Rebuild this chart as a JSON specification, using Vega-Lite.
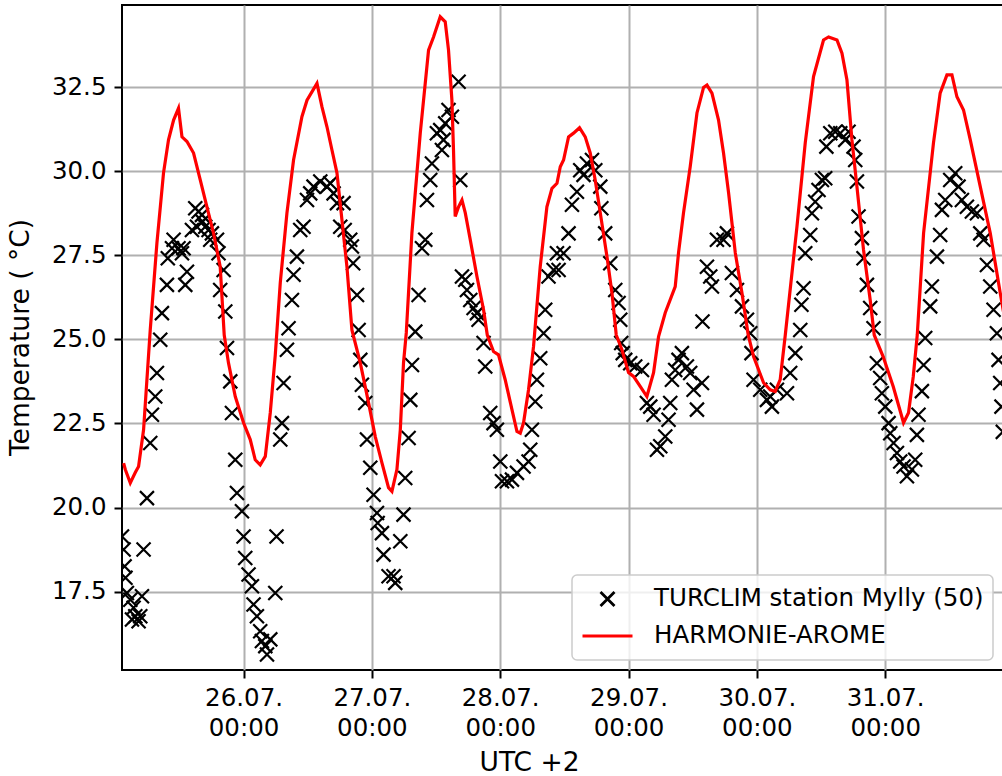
{
  "$schema": "https://vega.github.io/schema/vega-lite/v6.json",
  "width": 885,
  "height": 665,
  "autosize": {"type": "none"},
  "padding": {"left": 122, "top": 5, "right": -5, "bottom": 106},
  "background": "white",
  "config": {
    "view": {"stroke": "black", "strokeWidth": 2},
    "font": "DejaVu Sans",
    "axis": {
      "labelFont": "DejaVu Sans", "labelFontSize": 24.5, "labelColor": "black",
      "titleFont": "DejaVu Sans", "titleFontSize": 26.5, "titleFontWeight": "normal", "titleColor": "black",
      "tickColor": "black", "tickSize": 8, "tickWidth": 2, "labelPadding": 8,
      "domain": false, "grid": true, "gridColor": "#b0b0b0", "gridWidth": 2
    },
    "legend": {
      "orient": "none", "legendX": 450, "legendY": 570, "padding": 9,
      "fillColor": "rgba(255,255,255,0.8)", "strokeColor": "#cccccc", "strokeWidth": 1.5, "cornerRadius": 5,
      "labelFont": "DejaVu Sans", "labelFontSize": 24.5, "labelColor": "black", "labelLimit": 800,
      "labelOffset": 20, "symbolSize": 2500, "symbolStrokeWidth": 2.8, "clipHeight": 30, "rowPadding": 7
    }
  },
  "datasets": {
    "obs": [
      {"t":"2018-07-25T01:16Z","v":19.14},{"t":"2018-07-25T01:34Z","v":18.75},{"t":"2018-07-25T01:45Z","v":18.25},{"t":"2018-07-25T01:55Z","v":17.91},{"t":"2018-07-25T02:11Z","v":17.46},{"t":"2018-07-25T02:49Z","v":17.26},{"t":"2018-07-25T03:08Z","v":16.67},{"t":"2018-07-25T03:26Z","v":17.02},{"t":"2018-07-25T03:45Z","v":16.77},{"t":"2018-07-25T04:22Z","v":16.62},{"t":"2018-07-25T04:41Z","v":16.77},{"t":"2018-07-25T05:00Z","v":17.36},{"t":"2018-07-25T05:18Z","v":18.75},{"t":"2018-07-25T05:56Z","v":20.28},{"t":"2018-07-25T06:33Z","v":21.92},{"t":"2018-07-25T06:52Z","v":22.76},{"t":"2018-07-25T07:29Z","v":23.30},{"t":"2018-07-25T07:48Z","v":24.00},{"t":"2018-07-25T08:25Z","v":24.99},{"t":"2018-07-25T08:44Z","v":25.78},{"t":"2018-07-25T09:40Z","v":26.62},{"t":"2018-07-25T09:50Z","v":27.41},{"t":"2018-07-25T10:37Z","v":27.71},{"t":"2018-07-25T10:55Z","v":27.96},{"t":"2018-07-25T11:50Z","v":27.71},{"t":"2018-07-25T12:29Z","v":27.56},{"t":"2018-07-25T12:47Z","v":27.71},{"t":"2018-07-25T13:06Z","v":26.62},{"t":"2018-07-25T13:25Z","v":27.01},{"t":"2018-07-25T14:21Z","v":28.25},{"t":"2018-07-25T14:58Z","v":28.90},{"t":"2018-07-25T15:17Z","v":28.35},{"t":"2018-07-25T15:35Z","v":28.80},{"t":"2018-07-25T16:13Z","v":28.70},{"t":"2018-07-25T16:20Z","v":28.50},{"t":"2018-07-25T16:50Z","v":28.35},{"t":"2018-07-25T17:27Z","v":28.25},{"t":"2018-07-25T17:46Z","v":27.96},{"t":"2018-07-25T18:05Z","v":28.15},{"t":"2018-07-25T19:02Z","v":27.96},{"t":"2018-07-25T19:19Z","v":27.56},{"t":"2018-07-25T19:38Z","v":26.47},{"t":"2018-07-25T20:16Z","v":27.06},{"t":"2018-07-25T20:35Z","v":25.83},{"t":"2018-07-25T20:54Z","v":24.74},{"t":"2018-07-25T21:31Z","v":23.75},{"t":"2018-07-25T21:50Z","v":22.81},{"t":"2018-07-25T22:27Z","v":21.42},{"t":"2018-07-25T22:46Z","v":20.43},{"t":"2018-07-25T23:42Z","v":19.89},
      {"t":"2018-07-26T00:00Z","v":19.14},{"t":"2018-07-26T00:19Z","v":18.50},{"t":"2018-07-26T00:56Z","v":18.01},{"t":"2018-07-26T01:34Z","v":17.66},{"t":"2018-07-26T01:52Z","v":17.12},{"t":"2018-07-26T02:30Z","v":16.77},{"t":"2018-07-26T03:07Z","v":16.32},{"t":"2018-07-26T03:26Z","v":16.03},{"t":"2018-07-26T04:04Z","v":15.88},{"t":"2018-07-26T04:23Z","v":15.63},{"t":"2018-07-26T05:00Z","v":16.08},{"t":"2018-07-26T05:56Z","v":17.46},{"t":"2018-07-26T06:10Z","v":19.14},{"t":"2018-07-26T06:52Z","v":22.02},{"t":"2018-07-26T07:11Z","v":22.51},{"t":"2018-07-26T07:29Z","v":23.70},{"t":"2018-07-26T08:07Z","v":24.69},{"t":"2018-07-26T08:25Z","v":25.33},{"t":"2018-07-26T09:03Z","v":26.17},{"t":"2018-07-26T09:21Z","v":26.92},{"t":"2018-07-26T09:59Z","v":27.46},{"t":"2018-07-26T10:36Z","v":28.25},{"t":"2018-07-26T11:13Z","v":28.35},{"t":"2018-07-26T11:52Z","v":29.14},{"t":"2018-07-26T12:28Z","v":29.34},{"t":"2018-07-26T13:05Z","v":29.54},{"t":"2018-07-26T14:21Z","v":29.69},{"t":"2018-07-26T15:36Z","v":29.54},{"t":"2018-07-26T16:13Z","v":29.64},{"t":"2018-07-26T16:50Z","v":29.34},{"t":"2018-07-26T17:28Z","v":29.05},{"t":"2018-07-26T18:05Z","v":28.35},{"t":"2018-07-26T18:42Z","v":29.05},{"t":"2018-07-26T18:55Z","v":28.25},{"t":"2018-07-26T19:57Z","v":27.96},{"t":"2018-07-26T20:16Z","v":27.76},{"t":"2018-07-26T20:30Z","v":27.26},{"t":"2018-07-26T21:13Z","v":26.32},{"t":"2018-07-26T21:31Z","v":25.28},{"t":"2018-07-26T21:50Z","v":24.39},{"t":"2018-07-26T22:08Z","v":23.65},{"t":"2018-07-26T22:46Z","v":23.11},{"t":"2018-07-26T23:05Z","v":22.02},{"t":"2018-07-26T23:42Z","v":21.18},
      {"t":"2018-07-27T00:19Z","v":20.38},{"t":"2018-07-27T00:57Z","v":19.84},{"t":"2018-07-27T01:05Z","v":19.54},{"t":"2018-07-27T01:53Z","v":19.24},{"t":"2018-07-27T02:11Z","v":18.60},{"t":"2018-07-27T03:07Z","v":17.96},{"t":"2018-07-27T04:03Z","v":17.96},{"t":"2018-07-27T04:22Z","v":17.76},{"t":"2018-07-27T05:19Z","v":19.00},{"t":"2018-07-27T05:55Z","v":19.79},{"t":"2018-07-27T06:14Z","v":20.88},{"t":"2018-07-27T06:52Z","v":22.07},{"t":"2018-07-27T07:11Z","v":23.20},{"t":"2018-07-27T07:30Z","v":24.24},{"t":"2018-07-27T08:07Z","v":25.23},{"t":"2018-07-27T08:44Z","v":26.32},{"t":"2018-07-27T09:22Z","v":27.71},{"t":"2018-07-27T09:59Z","v":27.96},{"t":"2018-07-27T10:18Z","v":29.14},{"t":"2018-07-27T10:55Z","v":29.74},{"t":"2018-07-27T11:14Z","v":30.23},{"t":"2018-07-27T12:10Z","v":31.13},{"t":"2018-07-27T12:47Z","v":31.22},{"t":"2018-07-27T13:06Z","v":30.63},{"t":"2018-07-27T13:24Z","v":30.93},{"t":"2018-07-27T13:43Z","v":31.42},{"t":"2018-07-27T14:20Z","v":31.82},{"t":"2018-07-27T14:58Z","v":31.62},{"t":"2018-07-27T16:13Z","v":32.66},{"t":"2018-07-27T16:32Z","v":29.74},{"t":"2018-07-27T16:51Z","v":26.87},{"t":"2018-07-27T17:28Z","v":26.77},{"t":"2018-07-27T17:47Z","v":26.47},{"t":"2018-07-27T18:24Z","v":26.17},{"t":"2018-07-27T19:01Z","v":25.93},{"t":"2018-07-27T19:39Z","v":25.78},{"t":"2018-07-27T19:57Z","v":25.58},{"t":"2018-07-27T20:53Z","v":24.89},{"t":"2018-07-27T21:12Z","v":24.19},{"t":"2018-07-27T22:08Z","v":22.81},{"t":"2018-07-27T22:45Z","v":22.51},{"t":"2018-07-27T23:23Z","v":22.31},
      {"t":"2018-07-28T00:01Z","v":21.37},{"t":"2018-07-28T00:20Z","v":20.78},{"t":"2018-07-28T01:16Z","v":20.78},{"t":"2018-07-28T02:12Z","v":20.83},{"t":"2018-07-28T03:08Z","v":21.03},{"t":"2018-07-28T04:22Z","v":21.22},{"t":"2018-07-28T05:18Z","v":21.37},{"t":"2018-07-28T05:37Z","v":21.72},{"t":"2018-07-28T05:56Z","v":22.31},{"t":"2018-07-28T06:33Z","v":23.15},{"t":"2018-07-28T06:52Z","v":23.80},{"t":"2018-07-28T07:29Z","v":24.44},{"t":"2018-07-28T08:07Z","v":25.18},{"t":"2018-07-28T08:25Z","v":25.88},{"t":"2018-07-28T09:02Z","v":26.87},{"t":"2018-07-28T09:59Z","v":27.06},{"t":"2018-07-28T10:37Z","v":27.56},{"t":"2018-07-28T10:55Z","v":27.06},{"t":"2018-07-28T11:51Z","v":27.56},{"t":"2018-07-28T12:47Z","v":28.15},{"t":"2018-07-28T13:25Z","v":29.00},{"t":"2018-07-28T14:21Z","v":29.39},{"t":"2018-07-28T14:58Z","v":30.03},{"t":"2018-07-28T15:35Z","v":29.89},{"t":"2018-07-28T16:13Z","v":30.23},{"t":"2018-07-28T17:10Z","v":30.33},{"t":"2018-07-28T17:47Z","v":30.03},{"t":"2018-07-28T18:43Z","v":29.54},{"t":"2018-07-28T18:55Z","v":28.90},{"t":"2018-07-28T19:38Z","v":28.15},{"t":"2018-07-28T20:35Z","v":27.26},{"t":"2018-07-28T21:31Z","v":26.47},{"t":"2018-07-28T22:08Z","v":26.08},{"t":"2018-07-28T22:27Z","v":25.58},{"t":"2018-07-28T22:38Z","v":24.89},{"t":"2018-07-28T22:55Z","v":24.59},{"t":"2018-07-28T23:23Z","v":24.39},
      {"t":"2018-07-29T00:19Z","v":24.29},{"t":"2018-07-29T01:15Z","v":24.19},{"t":"2018-07-29T02:31Z","v":24.09},{"t":"2018-07-29T03:26Z","v":23.11},{"t":"2018-07-29T04:04Z","v":23.00},{"t":"2018-07-29T04:41Z","v":22.76},{"t":"2018-07-29T05:19Z","v":21.72},{"t":"2018-07-29T05:56Z","v":21.82},{"t":"2018-07-29T06:52Z","v":22.11},{"t":"2018-07-29T07:29Z","v":22.61},{"t":"2018-07-29T07:48Z","v":23.11},{"t":"2018-07-29T08:07Z","v":23.80},{"t":"2018-07-29T08:44Z","v":24.09},{"t":"2018-07-29T09:21Z","v":24.39},{"t":"2018-07-29T09:59Z","v":24.59},{"t":"2018-07-29T10:55Z","v":24.19},{"t":"2018-07-29T11:32Z","v":24.00},{"t":"2018-07-29T12:10Z","v":23.50},{"t":"2018-07-29T12:48Z","v":22.91},{"t":"2018-07-29T13:44Z","v":23.70},{"t":"2018-07-29T13:50Z","v":25.53},{"t":"2018-07-29T14:40Z","v":27.16},{"t":"2018-07-29T15:17Z","v":26.87},{"t":"2018-07-29T15:36Z","v":26.57},{"t":"2018-07-29T16:32Z","v":27.96},{"t":"2018-07-29T17:46Z","v":27.96},{"t":"2018-07-29T18:24Z","v":28.15},{"t":"2018-07-29T19:20Z","v":26.97},{"t":"2018-07-29T20:17Z","v":26.47},{"t":"2018-07-29T21:13Z","v":25.98},{"t":"2018-07-29T22:09Z","v":25.58},{"t":"2018-07-29T22:46Z","v":25.18},{"t":"2018-07-29T23:00Z","v":24.59},{"t":"2018-07-29T23:23Z","v":23.80},
      {"t":"2018-07-30T00:38Z","v":23.50},{"t":"2018-07-30T01:53Z","v":23.20},{"t":"2018-07-30T02:30Z","v":23.30},{"t":"2018-07-30T02:49Z","v":23.00},{"t":"2018-07-30T03:45Z","v":23.50},{"t":"2018-07-30T05:38Z","v":23.40},{"t":"2018-07-30T06:14Z","v":24.00},{"t":"2018-07-30T07:11Z","v":24.59},{"t":"2018-07-30T08:07Z","v":25.28},{"t":"2018-07-30T08:20Z","v":26.03},{"t":"2018-07-30T08:44Z","v":26.52},{"t":"2018-07-30T09:03Z","v":27.56},{"t":"2018-07-30T09:59Z","v":28.10},{"t":"2018-07-30T10:18Z","v":28.75},{"t":"2018-07-30T10:55Z","v":29.09},{"t":"2018-07-30T11:32Z","v":29.44},{"t":"2018-07-30T12:10Z","v":29.74},{"t":"2018-07-30T12:47Z","v":29.79},{"t":"2018-07-30T13:00Z","v":30.73},{"t":"2018-07-30T13:44Z","v":31.13},{"t":"2018-07-30T14:40Z","v":31.17},{"t":"2018-07-30T15:36Z","v":31.13},{"t":"2018-07-30T16:32Z","v":30.93},{"t":"2018-07-30T17:09Z","v":31.17},{"t":"2018-07-30T18:05Z","v":30.73},{"t":"2018-07-30T18:24Z","v":30.33},{"t":"2018-07-30T18:43Z","v":29.69},{"t":"2018-07-30T19:01Z","v":28.65},{"t":"2018-07-30T19:39Z","v":28.01},{"t":"2018-07-30T19:57Z","v":27.41},{"t":"2018-07-30T20:35Z","v":26.62},{"t":"2018-07-30T21:12Z","v":25.93},{"t":"2018-07-30T21:49Z","v":25.33},{"t":"2018-07-30T22:27Z","v":24.29},{"t":"2018-07-30T23:04Z","v":23.85},{"t":"2018-07-30T23:23Z","v":23.40},
      {"t":"2018-07-31T00:01Z","v":23.00},{"t":"2018-07-31T00:38Z","v":22.51},{"t":"2018-07-31T00:57Z","v":22.21},{"t":"2018-07-31T01:34Z","v":21.92},{"t":"2018-07-31T02:12Z","v":21.62},{"t":"2018-07-31T02:49Z","v":21.37},{"t":"2018-07-31T03:26Z","v":21.22},{"t":"2018-07-31T04:04Z","v":20.93},{"t":"2018-07-31T05:00Z","v":21.13},{"t":"2018-07-31T05:37Z","v":21.42},{"t":"2018-07-31T05:56Z","v":22.16},{"t":"2018-07-31T06:14Z","v":22.76},{"t":"2018-07-31T06:52Z","v":23.46},{"t":"2018-07-31T07:11Z","v":24.24},{"t":"2018-07-31T07:29Z","v":25.04},{"t":"2018-07-31T08:25Z","v":25.98},{"t":"2018-07-31T08:44Z","v":26.57},{"t":"2018-07-31T09:41Z","v":27.46},{"t":"2018-07-31T10:17Z","v":28.10},{"t":"2018-07-31T10:37Z","v":28.85},{"t":"2018-07-31T11:14Z","v":29.14},{"t":"2018-07-31T12:10Z","v":29.74},{"t":"2018-07-31T13:06Z","v":29.94},{"t":"2018-07-31T13:43Z","v":29.54},{"t":"2018-07-31T14:21Z","v":29.14},{"t":"2018-07-31T15:17Z","v":28.94},{"t":"2018-07-31T16:13Z","v":28.80},{"t":"2018-07-31T17:10Z","v":28.75},{"t":"2018-07-31T17:47Z","v":28.15},{"t":"2018-07-31T18:24Z","v":27.96},{"t":"2018-07-31T19:02Z","v":27.21},{"t":"2018-07-31T19:39Z","v":26.57},{"t":"2018-07-31T20:16Z","v":25.88},{"t":"2018-07-31T20:54Z","v":25.18},{"t":"2018-07-31T21:12Z","v":24.39},{"t":"2018-07-31T21:31Z","v":23.70},{"t":"2018-07-31T21:45Z","v":23.00},{"t":"2018-07-31T22:00Z","v":22.25}
    ],
    "model": [
      {"t":"2018-07-25T01:34Z","v":21.32},{"t":"2018-07-25T01:53Z","v":21.13},{"t":"2018-07-25T02:49Z","v":20.73},{"t":"2018-07-25T03:45Z","v":21.04},{"t":"2018-07-25T04:22Z","v":21.22},{"t":"2018-07-25T05:18Z","v":22.31},{"t":"2018-07-25T06:33Z","v":25.28},{"t":"2018-07-25T07:48Z","v":27.87},{"t":"2018-07-25T09:02Z","v":29.95},{"t":"2018-07-25T09:58Z","v":30.93},{"t":"2018-07-25T10:55Z","v":31.52},{"t":"2018-07-25T11:50Z","v":31.87},{"t":"2018-07-25T12:29Z","v":31.02},{"t":"2018-07-25T13:25Z","v":30.88},{"t":"2018-07-25T14:39Z","v":30.54},{"t":"2018-07-25T15:54Z","v":29.74},{"t":"2018-07-25T17:09Z","v":28.94},{"t":"2018-07-25T18:23Z","v":28.16},{"t":"2018-07-25T19:38Z","v":27.16},{"t":"2018-07-25T20:23Z","v":25.13},{"t":"2018-07-25T21:11Z","v":24.30},{"t":"2018-07-25T22:27Z","v":23.30},
      {"t":"2018-07-26T00:00Z","v":22.52},{"t":"2018-07-26T01:15Z","v":22.02},{"t":"2018-07-26T02:11Z","v":21.42},{"t":"2018-07-26T03:07Z","v":21.27},{"t":"2018-07-26T04:04Z","v":21.52},{"t":"2018-07-26T05:00Z","v":22.82},{"t":"2018-07-26T05:56Z","v":24.54},{"t":"2018-07-26T06:52Z","v":26.68},{"t":"2018-07-26T08:07Z","v":28.76},{"t":"2018-07-26T09:21Z","v":30.33},{"t":"2018-07-26T10:55Z","v":31.62},{"t":"2018-07-26T11:52Z","v":32.11},{"t":"2018-07-26T13:44Z","v":32.61},{"t":"2018-07-26T14:40Z","v":31.91},{"t":"2018-07-26T15:36Z","v":31.32},{"t":"2018-07-26T16:32Z","v":30.63},{"t":"2018-07-26T17:28Z","v":29.95},{"t":"2018-07-26T18:24Z","v":28.55},{"t":"2018-07-26T19:20Z","v":27.16},{"t":"2018-07-26T20:16Z","v":25.28},{"t":"2018-07-26T21:50Z","v":24.30},{"t":"2018-07-26T23:23Z","v":23.11},
      {"t":"2018-07-27T00:38Z","v":22.11},{"t":"2018-07-27T01:53Z","v":21.33},{"t":"2018-07-27T03:07Z","v":20.59},{"t":"2018-07-27T03:45Z","v":20.48},{"t":"2018-07-27T04:41Z","v":21.13},{"t":"2018-07-27T05:19Z","v":22.31},{"t":"2018-07-27T05:55Z","v":24.30},{"t":"2018-07-27T06:26Z","v":25.19},{"t":"2018-07-27T07:29Z","v":28.16},{"t":"2018-07-27T09:03Z","v":31.13},{"t":"2018-07-27T10:36Z","v":33.60},{"t":"2018-07-27T11:32Z","v":33.99},{"t":"2018-07-27T12:47Z","v":34.59},{"t":"2018-07-27T13:43Z","v":34.44},{"t":"2018-07-27T14:20Z","v":33.60},{"t":"2018-07-27T14:58Z","v":32.11},{"t":"2018-07-27T15:16Z","v":30.63},{"t":"2018-07-27T15:35Z","v":28.65},{"t":"2018-07-27T16:13Z","v":28.94},{"t":"2018-07-27T16:51Z","v":29.14},{"t":"2018-07-27T17:28Z","v":28.76},{"t":"2018-07-27T18:24Z","v":27.96},{"t":"2018-07-27T19:39Z","v":26.87},{"t":"2018-07-27T20:53Z","v":25.88},{"t":"2018-07-27T21:35Z","v":25.13},{"t":"2018-07-27T22:45Z","v":24.64},{"t":"2018-07-27T23:41Z","v":24.54},
      {"t":"2018-07-28T00:56Z","v":23.80},{"t":"2018-07-28T02:12Z","v":22.91},{"t":"2018-07-28T03:08Z","v":22.26},{"t":"2018-07-28T03:45Z","v":22.21},{"t":"2018-07-28T04:22Z","v":22.52},{"t":"2018-07-28T05:18Z","v":23.50},{"t":"2018-07-28T06:14Z","v":24.79},{"t":"2018-07-28T07:29Z","v":27.16},{"t":"2018-07-28T08:44Z","v":28.94},{"t":"2018-07-28T09:41Z","v":29.49},{"t":"2018-07-28T10:37Z","v":29.64},{"t":"2018-07-28T11:14Z","v":30.13},{"t":"2018-07-28T11:51Z","v":30.33},{"t":"2018-07-28T12:47Z","v":31.02},{"t":"2018-07-28T13:43Z","v":31.13},{"t":"2018-07-28T14:50Z","v":31.29},{"t":"2018-07-28T15:54Z","v":31.02},{"t":"2018-07-28T16:50Z","v":30.54},{"t":"2018-07-28T17:46Z","v":29.74},{"t":"2018-07-28T18:43Z","v":28.76},{"t":"2018-07-28T19:58Z","v":27.46},{"t":"2018-07-28T20:54Z","v":26.38},{"t":"2018-07-28T21:42Z","v":25.13},{"t":"2018-07-28T22:46Z","v":24.69},
      {"t":"2018-07-29T00:00Z","v":24.01},{"t":"2018-07-29T00:56Z","v":23.90},{"t":"2018-07-29T02:11Z","v":23.60},{"t":"2018-07-29T03:26Z","v":23.30},{"t":"2018-07-29T04:41Z","v":24.01},{"t":"2018-07-29T05:37Z","v":25.08},{"t":"2018-07-29T06:52Z","v":25.79},{"t":"2018-07-29T08:44Z","v":26.57},{"t":"2018-07-29T09:21Z","v":27.57},{"t":"2018-07-29T10:17Z","v":28.76},{"t":"2018-07-29T11:32Z","v":30.13},{"t":"2018-07-29T12:48Z","v":31.73},{"t":"2018-07-29T14:02Z","v":32.49},{"t":"2018-07-29T14:40Z","v":32.56},{"t":"2018-07-29T15:36Z","v":32.32},{"t":"2018-07-29T16:50Z","v":31.52},{"t":"2018-07-29T17:46Z","v":30.54},{"t":"2018-07-29T18:43Z","v":29.35},{"t":"2018-07-29T19:58Z","v":27.57},{"t":"2018-07-29T21:13Z","v":26.38},{"t":"2018-07-29T22:23Z","v":25.13},{"t":"2018-07-29T23:23Z","v":24.49},
      {"t":"2018-07-30T01:15Z","v":23.71},{"t":"2018-07-30T02:30Z","v":23.50},{"t":"2018-07-30T03:26Z","v":23.45},{"t":"2018-07-30T04:22Z","v":23.80},{"t":"2018-07-30T05:19Z","v":25.13},{"t":"2018-07-30T07:30Z","v":28.35},{"t":"2018-07-30T09:03Z","v":30.84},{"t":"2018-07-30T10:36Z","v":32.81},{"t":"2018-07-30T12:28Z","v":33.90},{"t":"2018-07-30T13:25Z","v":33.99},{"t":"2018-07-30T14:59Z","v":33.90},{"t":"2018-07-30T15:55Z","v":33.51},{"t":"2018-07-30T16:51Z","v":32.71},{"t":"2018-07-30T17:47Z","v":30.93},{"t":"2018-07-30T18:43Z","v":29.54},{"t":"2018-07-30T19:57Z","v":27.66},{"t":"2018-07-30T21:12Z","v":26.17},{"t":"2018-07-30T21:57Z","v":25.13},{"t":"2018-07-30T23:38Z","v":24.48},
      {"t":"2018-07-31T01:31Z","v":23.59},{"t":"2018-07-31T03:26Z","v":22.52},{"t":"2018-07-31T04:22Z","v":22.82},{"t":"2018-07-31T05:15Z","v":23.89},{"t":"2018-07-31T06:00Z","v":25.13},{"t":"2018-07-31T07:11Z","v":28.16},{"t":"2018-07-31T09:02Z","v":30.84},{"t":"2018-07-31T10:17Z","v":32.32},{"t":"2018-07-31T11:33Z","v":32.86},{"t":"2018-07-31T12:29Z","v":32.86},{"t":"2018-07-31T13:25Z","v":32.21},{"t":"2018-07-31T14:39Z","v":31.82},{"t":"2018-07-31T15:55Z","v":30.93},{"t":"2018-07-31T17:47Z","v":29.54},{"t":"2018-07-31T19:39Z","v":28.16},{"t":"2018-07-31T21:31Z","v":26.38},{"t":"2018-07-31T23:01Z","v":25.00}
    ]
  },
  "layer": [
    {
      "data": {"name": "obs"},
      "mark": {"type": "point", "filled": false, "size": 2500, "strokeWidth": 2.2, "opacity": 1, "clip": true},
      "encoding": {
        "x": {
          "field": "t", "type": "temporal",
          "scale": {"type": "utc", "domain": [
            {"year": 2018, "month": "jul", "date": 25, "hours": 1, "minutes": 16, "utc": true},
            {"year": 2018, "month": "jul", "date": 31, "hours": 22, "minutes": 47, "utc": true}
          ]},
          "axis": {
            "values": [
              {"year": 2018, "month": "jul", "date": 26, "utc": true},
              {"year": 2018, "month": "jul", "date": 27, "utc": true},
              {"year": 2018, "month": "jul", "date": 28, "utc": true},
              {"year": 2018, "month": "jul", "date": 29, "utc": true},
              {"year": 2018, "month": "jul", "date": 30, "utc": true},
              {"year": 2018, "month": "jul", "date": 31, "utc": true}
            ],
            "labelExpr": "[utcFormat(datum.value, '%d.%m.'), utcFormat(datum.value, '%H:%M')]",
            "labelLineHeight": 30.5,
            "labelPadding": 8,
            "title": "UTC +2",
            "titleX": 407, "titleY": 100, "titleBaseline": "alphabetic"
          }
        },
        "y": {
          "field": "v", "type": "quantitative",
          "scale": {"domain": [15.17, 34.94], "nice": false, "zero": false},
          "axis": {
            "values": [17.5, 20, 22.5, 25, 27.5, 30, 32.5],
            "format": ".1f",
            "title": "Temperature ( °C)",
            "titleX": -102, "titleY": 332, "titleBaseline": "middle", "titleAngle": -90
          }
        },
        "color": {
          "datum": "TURCLIM station Mylly (50)",
          "scale": {"domain": ["TURCLIM station Mylly (50)", "HARMONIE-AROME"], "range": ["black", "red"]},
          "legend": {"title": null}
        },
        "shape": {
          "datum": "TURCLIM station Mylly (50)",
          "scale": {"domain": ["TURCLIM station Mylly (50)", "HARMONIE-AROME"], "range": ["M-0.28,-0.28L0.28,0.28M-0.28,0.28L0.28,-0.28", "M-1,0L1,0"]},
          "legend": {"title": null}
        }
      }
    },
    {
      "data": {"name": "model"},
      "mark": {"type": "line", "strokeWidth": 3.2, "clip": true},
      "encoding": {
        "x": {"field": "t", "type": "temporal"},
        "y": {"field": "v", "type": "quantitative"},
        "color": {"datum": "HARMONIE-AROME"}
      }
    }
  ]
}
